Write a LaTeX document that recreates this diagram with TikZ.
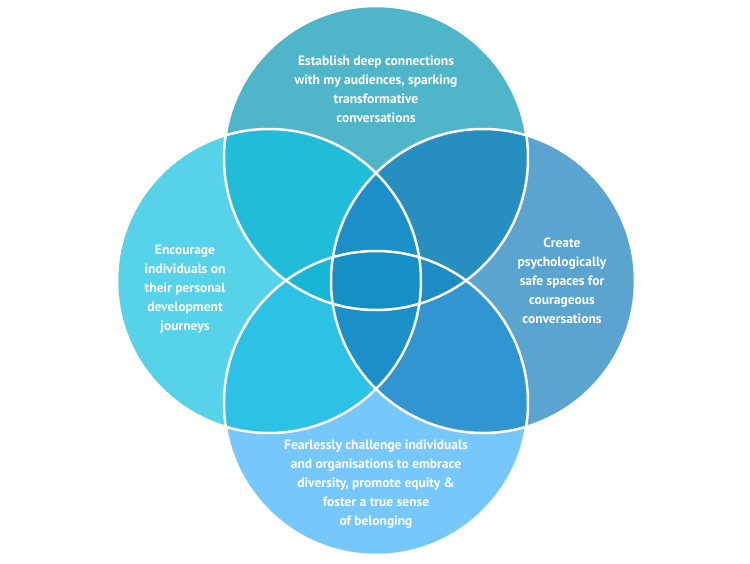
\documentclass[tikz,border=0pt]{standalone}
\usepackage{fontspec}
\setmainfont{PT Sans}
\begin{document}
\begin{tikzpicture}[x=1pt,y=-1pt,
  lab/.style={text=white,font=\bfseries\fontsize{13.5}{19}\selectfont,align=center},
  ring/.style={draw=white,line width=2.5pt}]
\useasboundingbox (0,0) rectangle (750,563);
\def\R{152}
\coordinate (T) at (376,158);
\coordinate (B) at (376,403);
\coordinate (L) at (269,281);
\coordinate (Rt) at (483,281);
\definecolor{cT}{HTML}{4FB6C9}
\definecolor{cL}{HTML}{56D3E8}
\definecolor{cR}{HTML}{5BA4D0}
\definecolor{cB}{HTML}{76C8FC}
\fill[cT] (T) circle (\R);
\fill[cL] (L) circle (\R);
\fill[cR] (Rt) circle (\R);
\fill[cB] (B) circle (\R);
\begin{scope}\clip (T) circle (\R); \fill[fill={rgb,255:red,32;green,188;blue,216}] (L) circle (\R);\end{scope}
\begin{scope}\clip (T) circle (\R); \fill[fill={rgb,255:red,38;green,143;blue,192}] (Rt) circle (\R);\end{scope}
\begin{scope}\clip (B) circle (\R); \fill[fill={rgb,255:red,43;green,194;blue,230}] (L) circle (\R);\end{scope}
\begin{scope}\clip (B) circle (\R); \fill[fill={rgb,255:red,48;green,149;blue,208}] (Rt) circle (\R);\end{scope}
\begin{scope}\clip (B) circle (\R); \fill[fill={rgb,255:red,22;green,182;blue,214}] (T) circle (\R);\end{scope}
\begin{scope}\clip (B) circle (\R); \clip (T) circle (\R); \fill[fill={rgb,255:red,28;green,140;blue,196}] (Rt) circle (\R);\end{scope}
\begin{scope}\clip (L) circle (\R); \fill[fill={rgb,255:red,27;green,144;blue,200}] (Rt) circle (\R);\end{scope}
\begin{scope}\clip (L) circle (\R); \clip (Rt) circle (\R); \clip (T) circle (\R); \fill[fill={rgb,255:red,21;green,144;blue,196}] (B) circle (\R);\end{scope}
\draw[ring] (T) circle (\R);
\draw[ring] (L) circle (\R);
\draw[ring] (Rt) circle (\R);
\draw[ring] (B) circle (\R);
\node[lab] (tT) at (376,89) {Establish deep connections\\with my audiences, sparking\\transformative\\conversations};
\node[lab] (tL) at (185,289) {Encourage\\individuals on\\their personal\\development\\journeys};
\node[lab] (tR) at (562,281) {Create\\psychologically\\safe spaces for\\courageous\\conversations};
\node[lab] (tB) at (376,484) {Fearlessly challenge individuals\\and organisations to embrace\\diversity, promote equity \&\\foster a true sense\\of belonging};
\end{tikzpicture}
\end{document}
